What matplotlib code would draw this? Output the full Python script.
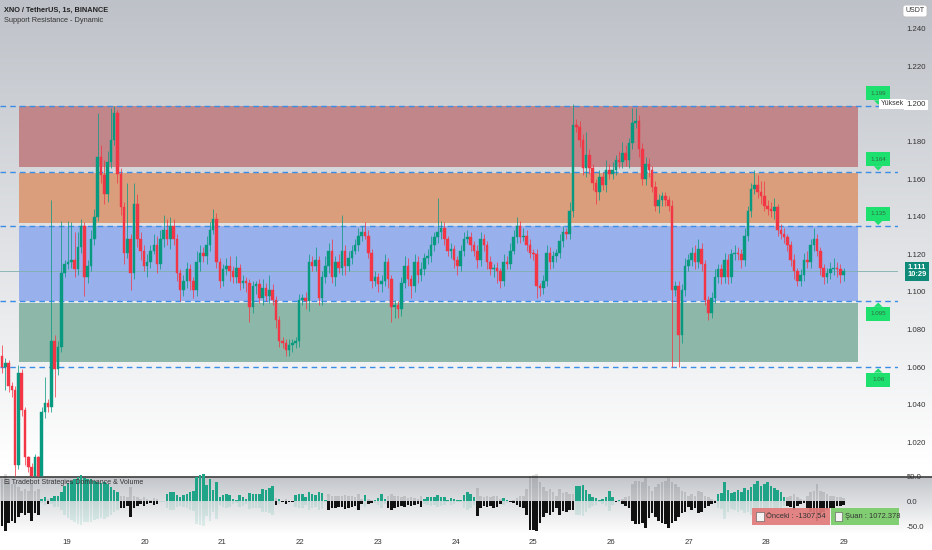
import numpy as np
import matplotlib.pyplot as plt
from matplotlib.patches import Rectangle, Polygon
import matplotlib.transforms as mtransforms

plt.rcParams["font.family"] = ["Liberation Sans", "DejaVu Sans"]

# closes in thousandths (price * 1000), one per 1s candle
close_k = [
    1060, 1062, 1050, 1048, 1008, 1057, 1037, 1012, 1007, 1002, 1012, 1002, 1036, 1041, 1039, 1074,
    1059, 1071, 1110, 1115, 1116, 1117, 1112, 1124, 1135, 1108, 1114, 1128, 1140, 1172, 1162, 1152,
    1169, 1181, 1195, 1163, 1145, 1121, 1128, 1110, 1147, 1128, 1122, 1114, 1116, 1122, 1125, 1115,
    1128, 1133, 1128, 1135, 1128, 1110, 1101, 1106, 1112, 1106, 1101, 1116, 1121, 1119, 1125, 1133,
    1139, 1116, 1106, 1112, 1114, 1111, 1108, 1113, 1105, 1106, 1105, 1092, 1103, 1104, 1097, 1102,
    1098, 1101, 1096, 1085, 1074, 1073, 1069, 1072, 1073, 1074, 1096, 1097, 1095, 1116, 1114, 1117,
    1097, 1108, 1114, 1122, 1108, 1116, 1113, 1122, 1114, 1118, 1122, 1125, 1130, 1132, 1130, 1121,
    1106, 1108, 1104, 1106, 1116, 1107, 1092, 1093, 1091, 1105, 1114, 1107, 1103, 1116, 1109, 1112,
    1118, 1119, 1125, 1129, 1132, 1134, 1128, 1122, 1123, 1117, 1114, 1122, 1128, 1129, 1125, 1122,
    1117, 1128, 1125, 1116, 1112, 1113, 1111, 1106, 1116, 1115, 1122, 1129, 1135, 1129, 1130, 1125,
    1121, 1120, 1103, 1102, 1106, 1121, 1116, 1119, 1121, 1127, 1132, 1131, 1143, 1189, 1188, 1181,
    1166, 1173, 1166, 1158, 1153, 1161, 1157, 1165, 1163, 1165, 1170, 1169, 1174, 1170, 1179, 1190,
    1191, 1176, 1160, 1168, 1165, 1156, 1146, 1149, 1151, 1149, 1146, 1101, 1103, 1077, 1101, 1114,
    1117, 1121, 1116, 1123, 1115, 1096, 1089, 1097, 1108, 1112, 1108, 1117, 1108, 1120, 1121, 1120,
    1117, 1130, 1143, 1155, 1157, 1153, 1151, 1146, 1144, 1143, 1145, 1133, 1131, 1129, 1125, 1117,
    1111, 1106, 1109, 1117, 1116, 1125, 1128, 1122, 1113, 1108, 1110, 1112, 1113, 1112, 1109, 1111,
]
first_open_k = 1066

# wick lengths above / below the body, thousandths
wick_up = [
    6, 3, 2, 2, 2, 4, 2, 2, 1, 2, 2, 1, 3, 14, 2, 75,
    3, 3, 28, 2, 22, 20, 15, 8, 4, 2, 3, 5, 4, 23, 6, 8,
    6, 17, 4, 2, 3, 3, 30, 3, 11, 5, 4, 3, 4, 3, 6, 5,
    5, 8, 6, 5, 4, 3, 2, 3, 4, 3, 2, 6, 4, 3, 5, 4,
    5, 3, 2, 3, 4, 5, 3, 6, 2, 3, 2, 2, 3, 2, 3, 5,
    3, 8, 3, 2, 2, 2, 2, 3, 2, 2, 3, 2, 3, 4, 3, 7,
    2, 3, 5, 4, 6, 3, 4, 19, 3, 4, 3, 3, 4, 3, 5, 3,
    2, 3, 2, 3, 4, 2, 2, 3, 2, 3, 5, 4, 2, 4, 3, 4,
    3, 4, 5, 3, 18, 4, 3, 2, 3, 2, 2, 3, 4, 4, 3, 2,
    3, 4, 3, 2, 3, 2, 3, 2, 4, 3, 4, 4, 5, 3, 4, 3,
    3, 2, 3, 2, 3, 4, 3, 3, 2, 4, 3, 2, 5, 11, 3, 3,
    3, 12, 3, 2, 2, 4, 3, 5, 3, 4, 3, 5, 6, 4, 3, 8,
    7, 3, 3, 4, 3, 2, 3, 3, 2, 2, 2, 3, 3, 3, 3, 4,
    3, 3, 4, 5, 3, 2, 2, 3, 4, 3, 3, 4, 3, 3, 4, 3,
    3, 4, 3, 3, 8, 5, 6, 8, 3, 4, 5, 2, 3, 3, 2, 2,
    3, 2, 3, 4, 5, 3, 6, 3, 2, 2, 3, 4, 5, 3, 3, 2,
]
wick_dn = [
    3, 12, 3, 4, 6, 2, 3, 4, 3, 2, 2, 2, 2, 3, 3, 3,
    15, 3, 3, 2, 3, 3, 4, 3, 3, 10, 3, 3, 3, 2, 4, 5,
    4, 3, 3, 5, 4, 6, 3, 9, 3, 4, 5, 3, 6, 3, 2, 5,
    3, 4, 3, 5, 3, 4, 6, 3, 4, 5, 4, 3, 5, 3, 4, 3,
    2, 3, 4, 3, 3, 5, 3, 3, 4, 3, 5, 8, 3, 4, 3, 4,
    3, 4, 3, 4, 3, 3, 3, 3, 4, 3, 3, 3, 4, 5, 3, 3,
    4, 4, 3, 4, 3, 5, 3, 4, 5, 3, 3, 2, 3, 3, 2, 3,
    4, 3, 4, 4, 3, 5, 8, 6, 5, 4, 3, 4, 6, 3, 4, 3,
    3, 3, 3, 3, 3, 4, 3, 3, 4, 4, 5, 3, 3, 2, 3, 3,
    4, 3, 3, 4, 3, 4, 6, 4, 3, 3, 3, 2, 3, 3, 2, 3,
    3, 3, 6, 4, 3, 3, 4, 3, 3, 3, 3, 3, 3, 3, 3, 4,
    4, 5, 3, 4, 6, 4, 3, 4, 3, 3, 3, 3, 3, 3, 4, 3,
    3, 4, 3, 3, 4, 3, 3, 4, 3, 3, 3, 41, 3, 17, 4, 3,
    3, 3, 4, 3, 4, 3, 4, 3, 3, 3, 4, 3, 4, 3, 3, 3,
    4, 3, 3, 3, 3, 3, 4, 3, 3, 3, 4, 3, 3, 3, 3, 3,
    4, 3, 3, 3, 3, 3, 3, 3, 4, 4, 3, 3, 3, 4, 4, 3,
]

# dominance histogram (lower pane)
dominance = [
    -50, -61, -43, -39, -43, -32, -24, -28, -24, -39, -24, -28, 4, 9, -5, 6,
    12, 12, 20, 31, 37, 42, 46, 50, 53, 47, 46, 46, 42, 40, 38, 40,
    35, 30, 24, 20, -13, -13, -10, -32, -13, -10, -6, -10, -6, -4, -7, -6,
    1, 1, 16, 20, 20, 13, 10, 13, 15, 20, 22, 50, 53, 55, 33, 45,
    24, 39, 9, 13, 15, 13, 5, 3, 13, 10, 5, 18, 15, 16, 16, 25,
    24, 27, 31, -7, 5, -2, -6, -2, -2, 13, 16, 15, 9, 20, 16, 13,
    20, 18, 2, -17, -13, -13, -12, -12, -15, -13, -12, -10, -17, -6, 13, -6,
    -4, 3, 7, 15, 5, -13, -17, -13, -12, -10, -12, -7, -10, -7, -6, -12,
    5, 9, 10, 9, 13, 10, 9, 2, 7, 5, 2, 2, 14, 20, 15, 9,
    -30, -13, -10, -12, -10, -13, -12, -6, 7, 3, -2, -4, -7, -12, -13, -28,
    -58, -59, -61, -43, -32, -24, -28, -21, -13, -27, -19, -21, -17, -17, 31, 31,
    33, 24, 16, 10, 7, 2, 5, 10, 22, 9, -1, 2, -6, -10, -13, -39,
    -46, -46, -43, -54, -34, -24, -32, -39, -43, -46, -54, -43, -39, -32, -24, -21,
    -12, -17, -13, -24, -22, -13, -10, -6, -3, 16, 18, 40, 24, 18, 20, 24,
    20, 27, 24, 30, 35, 42, 31, 35, 39, 31, 27, 24, 20, 10, -10, -12,
    -17, -10, -6, -4, -13, -21, -24, -39, -24, -21, -17, -13, -13, -10, -9, -7,
]

levels = [1.199, 1.164, 1.135, 1.095, 1.06]
level_labels = ["1.199", "1.164", "1.135", "1.095", "1.06"]
zone_bottoms = [1.1665, 1.1367, 1.0952, 1.0628]
zone_tops = [1.1989, 1.1633, 1.1351, 1.0941]
zone_colors = ["#c0868a", "#da9e7c", "#98b1ec", "#8db8a9"]
day_labels = ["19", "20", "21", "22", "23", "24", "25", "26", "27", "28", "29"]
price_ticks = [1.24, 1.22, 1.20, 1.18, 1.16, 1.14, 1.12, 1.10, 1.08, 1.06, 1.04, 1.02]
last_price = 1.111
prev_value = "-1307.54"
now_value = "1072.378"

W, H = 932, 550
GREEN = "#089981"
RED = "#f23645"

fig = plt.figure(figsize=(W / 100, H / 100), dpi=100)

# background gradients (main pane, lower pane, white strip)
bg = fig.add_axes([0, 0, 1, 1])
bg.axis("off")
top_c = np.array([0.745, 0.76, 0.785])
white = np.array([1.0, 1.0, 1.0])
img = np.ones((H, 1, 3))
for r in range(H):
    if r < 477:
        t = min(1.0, r / 465.0)
        img[r, 0] = top_c * (1 - t) + white * t
    elif r < 533:
        t = (r - 478) / 55.0
        img[r, 0] = np.array([0.77, 0.78, 0.80]) * (1 - t) + white * t
bg.imshow(img, aspect="auto", extent=[0, W, H, 0])
bg.set_xlim(0, W)
bg.set_ylim(H, 0)
bg.axhline(477, color="#4a4a4a", lw=1.3)

# main price pane
ax = fig.add_axes([0, 73 / H, 898 / W, 477 / H])
ax.patch.set_alpha(0)
for s in ax.spines.values():
    s.set_visible(False)
ax.set_xlim(-0.6, 271.5)
ax.set_ylim(1.0016, 1.2553)

n = len(close_k)
x = np.arange(n)
closes = np.array(close_k) / 1000.0
opens = np.concatenate([[first_open_k / 1000.0], closes[:-1]])
highs = np.maximum(opens, closes) + np.array(wick_up) / 1000.0
lows = np.minimum(opens, closes) - np.array(wick_dn) / 1000.0
cols = [GREEN if c >= o else RED for o, c in zip(opens, closes)]

for bot, top, col in zip(zone_bottoms, zone_tops, zone_colors):
    ax.add_patch(Rectangle((5.2, bot), 254.2, top - bot, fc=col, ec="none", zorder=1))

ax.axhline(last_price, color="#7fb0aa", lw=0.6, zorder=1.5)
for lv in levels:
    ax.axhline(lv, color="#3a8de6", lw=1.0, ls=(0, (4, 3)), zorder=2)

ax.vlines(x, lows, highs, colors=cols, lw=0.7, alpha=0.75, zorder=3)
body = np.maximum(np.abs(closes - opens), 0.0006)
ax.bar(x, body, bottom=np.minimum(opens, closes), width=0.78, color=cols,
       edgecolor=cols, linewidth=0.3, zorder=4)

# level callouts
for lv, lab in zip(levels, level_labels):
    above = lv > last_price
    x0, x1, xc = 261.8, 269.1, 265.5
    if above:
        b0, b1 = lv + 0.0029, lv + 0.0103
        tri = [(xc - 1.3, b0), (xc, lv + 0.0006), (xc + 1.3, b0)]
    else:
        b0, b1 = lv - 0.0103, lv - 0.0029
        tri = [(xc - 1.3, b1), (xc, lv - 0.0006), (xc + 1.3, b1)]
    ax.add_patch(Rectangle((x0, b0), x1 - x0, b1 - b0, fc="#1ee06e", ec="none",
                           clip_on=False, zorder=6))
    ax.add_patch(Polygon(tri, closed=True, fc="#1ee06e", ec="none", clip_on=False, zorder=6))
    ax.text(xc, (b0 + b1) / 2, lab, ha="center", va="center", fontsize=4.5,
            color="#2f6b45", zorder=7, clip_on=False)

ax.text(266.3, 1.2, "Yüksek", ha="left", va="center", fontsize=5, color="#333",
        zorder=8, clip_on=False,
        bbox=dict(boxstyle="square,pad=0.25", fc="white", ec="none"))

ax.yaxis.tick_right()
ax.set_yticks(price_ticks)
ylabs = ax.set_yticklabels(["%.3f" % p for p in price_ticks])
for lbl in ylabs:
    if lbl.get_text() == "1.200":
        lbl.set_bbox(dict(boxstyle="square,pad=0.25", fc="white", ec="none"))
ax.tick_params(axis="y", length=0, pad=6, labelsize=5.6, labelcolor="#333")
ax.set_xticks([])

trans = mtransforms.blended_transform_factory(ax.transAxes, ax.transData)
ax.text(1.0212, last_price, "1.111\n10:29", transform=trans, ha="center", va="center",
        fontsize=5.4, fontweight="bold", color="white", linespacing=1.05, zorder=9,
        clip_on=False, bbox=dict(boxstyle="square,pad=0.35", fc="#0f8a78", ec="none"))

# lower pane
ax2 = fig.add_axes([0, 18 / H, 898 / W, 59 / H])
ax2.patch.set_alpha(0)
for s in ax2.spines.values():
    s.set_visible(False)
ax2.set_xlim(-0.6, 271.5)
ax2.set_ylim(-62.2, 57.8)
dom = np.array(dominance, dtype=float)
dcols = ["#1fa487" if v >= 0 else "#111111" for v in dom]
ax2.bar(x, -0.9 * dom, width=0.78, color=dcols, alpha=0.13, zorder=2)
ax2.bar(x, dom, width=0.78, color=dcols, zorder=3)

ax2.yaxis.tick_right()
ax2.set_yticks([50, 0, -50])
ax2.set_yticklabels(["50.0", "0.0", "-50.0"])
ax2.tick_params(axis="y", length=0, pad=6, labelsize=5.6, labelcolor="#333")
day_pos = [19.7 + 23.55 * k for k in range(len(day_labels))]
ax2.set_xticks(day_pos)
ax2.set_xticklabels(day_labels)
ax2.tick_params(axis="x", length=0, pad=5, labelsize=5.6, labelcolor="#333")

ax2.text(0.004, 0.84, "\u229f Tradebot Strategies Dominance & Volume", transform=ax2.transAxes,
         fontsize=5, color="#333", va="center", ha="left", zorder=5)

# previous / current value boxes
ax2.add_patch(Rectangle((227.3, -48.9), 23.6, 35.6, fc="#e27b7b", ec="none", alpha=0.92,
                        clip_on=False, zorder=6))
ax2.add_patch(Rectangle((228.5, -40), 2.3, 18, fc="#f4f4f4", ec="#555", lw=0.4,
                        clip_on=False, zorder=7))
ax2.text(231.6, -31, "\u00d6nceki : " + prev_value, fontsize=5.4, color="#333", va="center",
         ha="left", zorder=7, clip_on=False)
ax2.add_patch(Rectangle((251.2, -48.9), 20.6, 35.6, fc="#7ccc6c", ec="none", alpha=0.95,
                        clip_on=False, zorder=8))
ax2.add_patch(Rectangle((252.3, -40), 2.3, 18, fc="#f4f4f4", ec="#555", lw=0.4,
                        clip_on=False, zorder=9))
ax2.text(255.4, -31, "\u015euan : " + now_value, fontsize=5.4, color="#333", va="center",
         ha="left", zorder=9, clip_on=False)

# header texts
fig.text(4 / W, 1 - 10 / H, "XNO / TetherUS, 1s, BINANCE", fontsize=5.3, fontweight="bold",
         color="#222", va="center", ha="left")
fig.text(4 / W, 1 - 21 / H, "Support Resistance - Dynamic", fontsize=5.3, color="#333",
         va="center", ha="left")
fig.text(915 / W, 1 - 11 / H, "USDT", fontsize=5, color="#333", va="center", ha="center",
         bbox=dict(boxstyle="round,pad=0.35", fc="white", ec="#bbbbbb", lw=0.5))

fig.savefig("out.png", dpi=100)
